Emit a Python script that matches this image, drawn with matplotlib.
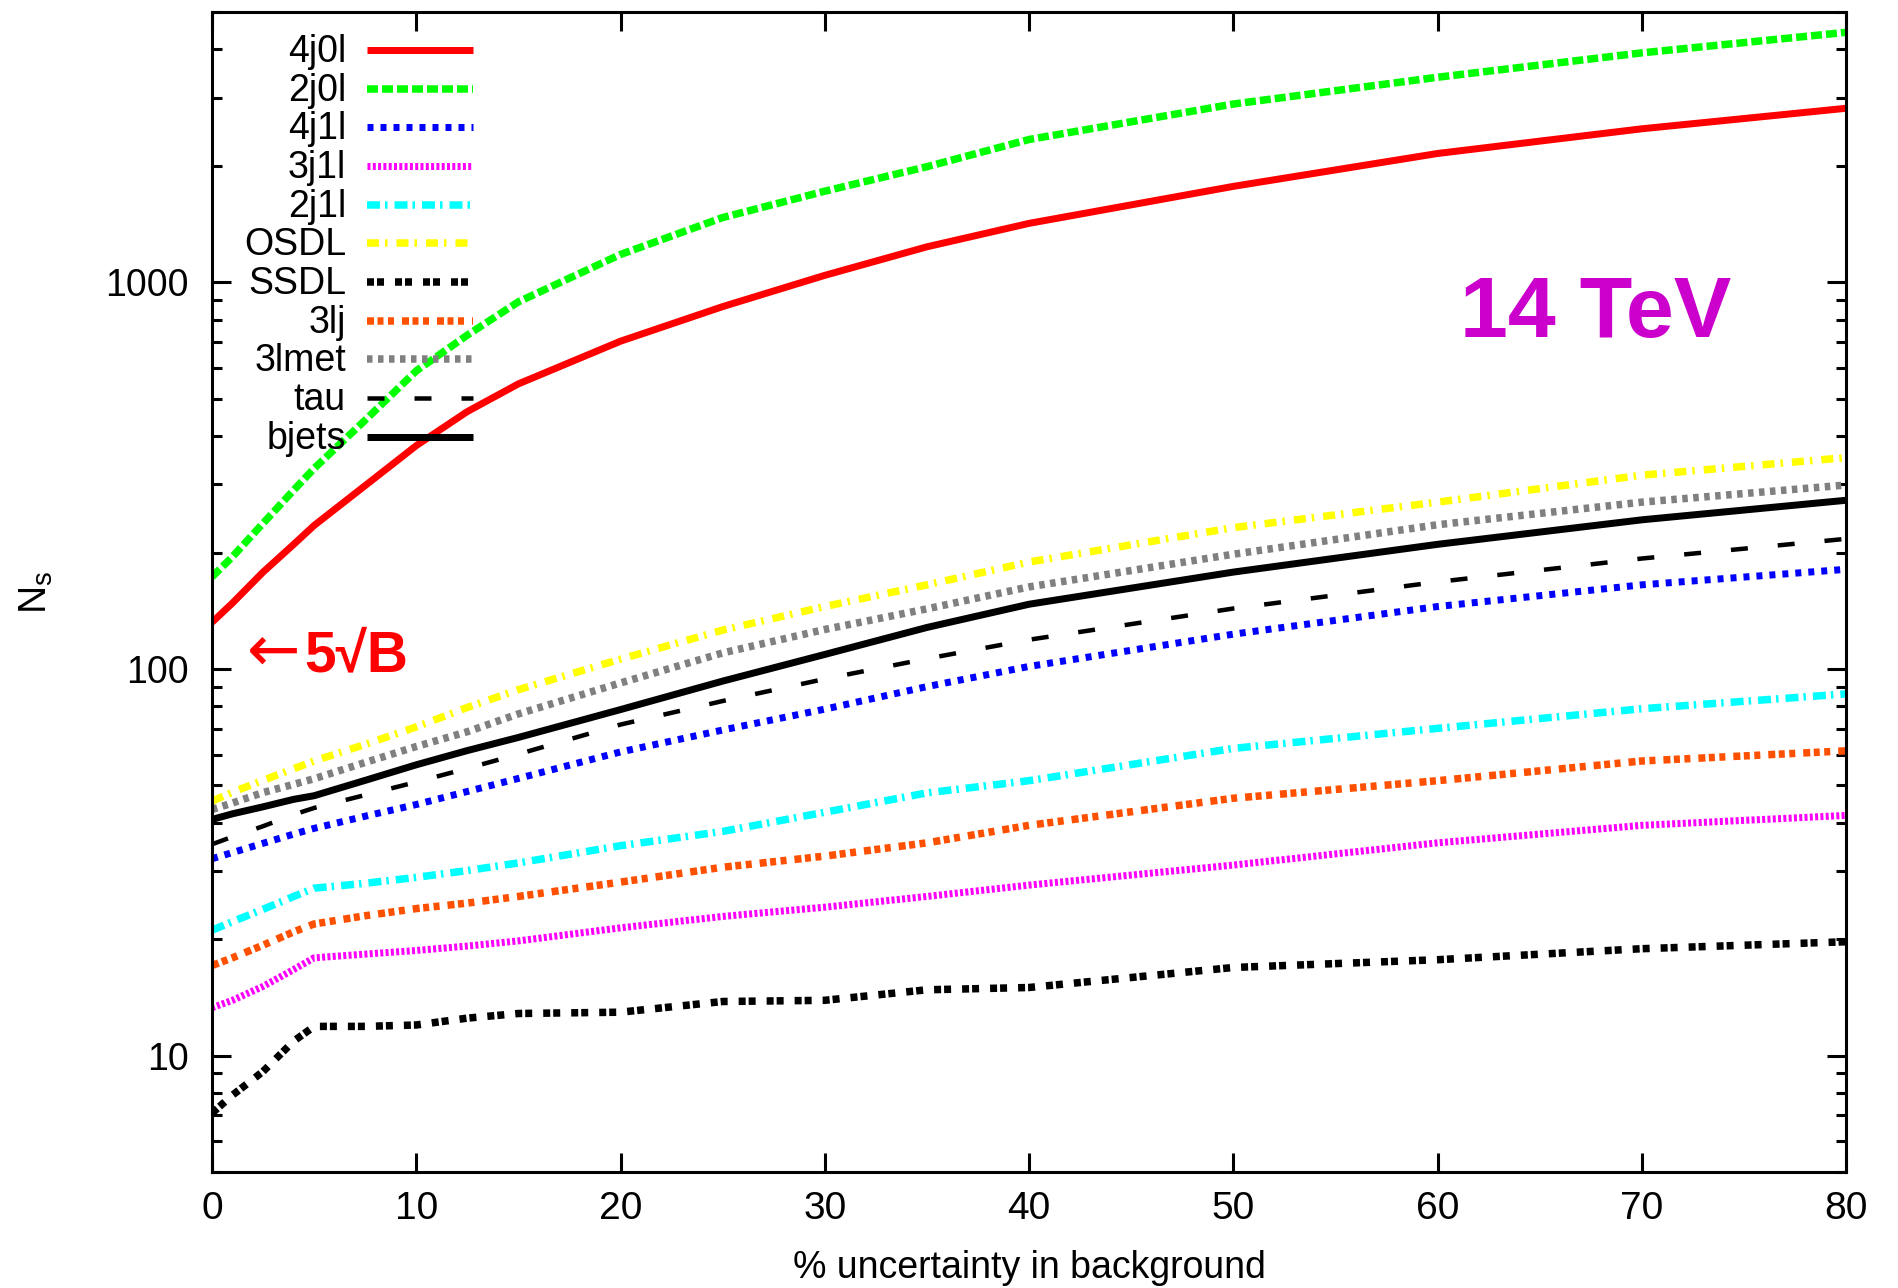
import matplotlib
matplotlib.use("Agg")
import matplotlib.pyplot as plt
from matplotlib.ticker import LogLocator, NullFormatter

plt.rcParams.update(
    {
        "font.family": ["Liberation Sans Narrow", "Liberation Sans", "DejaVu Sans"],
        "lines.scale_dashes": False,
        "axes.linewidth": 2.2,
    }
)

W, H = 1898, 1288
# plot box in pixels: left, top, right, bottom
AX_L, AX_T, AX_R, AX_B = 212, 12, 1846, 1172

# ---------------- data ----------------
x_pct = [0, 1, 2.5, 4, 5, 7.5, 10, 12.5, 15, 20, 25, 30, 35, 40, 50, 60, 70, 80]

n_4j0l = [132, 148, 178, 210, 235, 298, 378, 463, 546, 704, 865, 1042, 1235, 1420, 1770, 2153, 2494, 2818]
n_2j0l = [173, 195, 238, 290, 330, 440, 590, 730, 890, 1180, 1470, 1720, 1990, 2340, 2890, 3390, 3920, 4430]
n_4j1l = [32.3, 33.5, 35.4, 37.4, 38.7, 41.6, 44.6, 48.2, 52.1, 61.0, 69.5, 78.7, 90.0, 101.5, 123, 145, 165, 181]
n_3j1l = [13.3, 13.9, 15.1, 16.7, 17.9, 18.3, 18.7, 19.2, 19.8, 21.4, 22.9, 24.2, 25.8, 27.6, 31.1, 35.5, 39.4, 41.8]
n_2j1l = [21.1, 22.2, 23.9, 25.8, 27.1, 27.9, 28.9, 30.1, 31.5, 34.9, 38.0, 42.6, 47.8, 51.4, 62.3, 70.2, 78.9, 86.2]
n_osdl = [45.5, 48.0, 51.5, 55.2, 57.8, 63.8, 70.8, 79.5, 88.4, 106, 126, 145, 165, 189, 232, 270, 317, 352]
n_ssdl = [7.1, 7.9, 9.1, 10.9, 11.9, 11.9, 12.0, 12.5, 12.85, 12.95, 13.8, 13.9, 14.8, 15.0, 16.9, 17.7, 18.9, 19.7]
n_3lj = [17.1, 17.9, 19.3, 20.9, 21.9, 23.0, 24.0, 24.8, 25.8, 28.1, 30.7, 32.8, 35.5, 39.4, 46.3, 51.4, 57.8, 61.4]
n_3lmet = [43.3, 45.0, 47.9, 50.3, 52.0, 57.3, 63.0, 68.8, 76.5, 92, 110, 126.5, 143, 163, 198, 236, 270, 299]
n_tau = [35.2, 36.8, 39.2, 42.0, 43.7, 47.2, 51.0, 55.3, 60.2, 71.8, 82.6, 94.2, 106.3, 119, 143.3, 167.9, 193, 217]
n_bjets = [40.8, 42.2, 44.0, 46.0, 47.0, 51.5, 56.5, 61.5, 66.5, 78.5, 93, 109, 128, 147, 178, 210, 243, 273]

labels = ["4j0l", "2j0l", "4j1l", "3j1l", "2j1l", "OSDL", "SSDL", "3lj", "3lmet", "tau", "bjets"]
series = [n_4j0l, n_2j0l, n_4j1l, n_3j1l, n_2j1l, n_osdl, n_ssdl, n_3lj, n_3lmet, n_tau, n_bjets]

# ---------------- styles ----------------
colors = ["#ff0000", "#00ff00", "#0000ff", "#ff00ff", "#00ffff", "#ffff00",
          "#000000", "#ff5000", "#808080", "#000000", "#000000"]
widths_px = [7, 7.5, 7, 7, 7.5, 7.5, 7.5, 7.5, 7.5, 4.5, 7]
dashes_px = [None, (11, 4), (6, 7), (3, 2.3), (13, 5, 2.5, 7), (12, 6, 2.5, 9),
             (7, 3, 7, 11), (7, 3.5, 6, 4.5, 6, 8), (5.5, 5.5), (17, 30), None]


def pt(v):
    # pixels -> points at 100 dpi
    return v * 0.72


def ax_xy(xp, yp):
    # figure pixel position -> axes fraction
    return (xp - AX_L) / (AX_R - AX_L), (AX_B - yp) / (AX_B - AX_T)


def style(c, w, d):
    ls = "-" if d is None else (0, tuple(pt(v) for v in d))
    return dict(color=c, lw=pt(w), linestyle=ls,
                solid_capstyle="butt", dash_capstyle="butt")


fig = plt.figure(figsize=(W / 100, H / 100), dpi=100)
ax = fig.add_axes((AX_L / W, 1 - AX_B / H, (AX_R - AX_L) / W, (AX_B - AX_T) / H))

for ys, c, w, d in zip(series, colors, widths_px, dashes_px):
    ax.plot(x_pct, ys, **style(c, w, d))

ax.set_yscale("log")
ax.set_xlim(0, 80)
ax.set_ylim(5, 5000)

ax.set_xticks(range(0, 81, 10))
ax.set_yticks([10, 100, 1000], labels=["10", "100", "1000"])
ax.yaxis.set_minor_locator(LogLocator(base=10, subs=range(2, 10)))
ax.yaxis.set_minor_formatter(NullFormatter())

ax.tick_params(which="both", direction="in", top=True, right=True, width=2.2)
ax.tick_params(which="major", length=14)
ax.tick_params(which="minor", length=7)
ax.tick_params(axis="x", pad=14, labelsize=28)
ax.tick_params(axis="y", pad=17, labelsize=27)

ax.set_xlabel("% uncertainty in background", fontsize=27)
ax.xaxis.set_label_coords(0.5, ax_xy(0, 1278)[1])
ax.xaxis.label.set_verticalalignment("baseline")

ax.set_ylabel(r"N$_\mathregular{s}$", fontsize=28)
ax.yaxis.set_label_coords(ax_xy(36, 0)[0], 0.5)
ax.yaxis.label.set_verticalalignment("center")

# key in the upper left corner, labels right-aligned before the samples
for i, (lab, c, w, d) in enumerate(zip(labels, colors, widths_px, dashes_px)):
    yl = 50 + i * 38.67
    x0, y0 = ax_xy(367, yl)
    x1, _ = ax_xy(473, yl)
    ax.plot([x0, x1], [y0, y0], transform=ax.transAxes, zorder=5, **style(c, w, d))
    tx, ty = ax_xy(346, yl + 12)
    ax.text(tx, ty, lab, transform=ax.transAxes, ha="right", va="baseline",
            fontsize=27, zorder=5)

# 5 sqrt(B) marker next to the 4j0l start
tx, ty = ax_xy(247, 671)
ax.text(tx, ty, "\u2190", transform=ax.transAxes, ha="left", va="baseline",
        fontsize=46, color="#ff0000", family="DejaVu Sans")
tx, ty = ax_xy(304, 671)
ax.text(tx, ty, "5\u221aB", transform=ax.transAxes, ha="left", va="baseline",
        fontsize=41, fontweight="bold", color="#ff0000",
        family=["Liberation Sans", "DejaVu Sans"])

tx, ty = ax_xy(1596, 337)
ax.text(tx, ty, "14 TeV", transform=ax.transAxes, ha="center", va="baseline",
        fontsize=62, fontweight="bold", color="#cc00cc",
        family=["Liberation Sans", "DejaVu Sans"])

fig.savefig("out.png", dpi=100)
